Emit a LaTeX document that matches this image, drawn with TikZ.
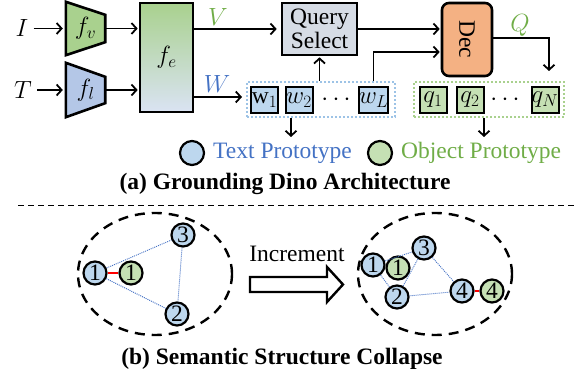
\documentclass[tikz,border=0pt]{standalone}
\usepackage{fontspec}
\setmainfont{Liberation Serif}
\usetikzlibrary{arrows.meta,shapes.geometric,backgrounds}

\definecolor{encgreen}{HTML}{A9D18E}
\definecolor{encblue}{HTML}{B4C7E7}
\definecolor{fusebot}{HTML}{DAE3F3}
\definecolor{qsgray}{HTML}{D6DCE5}
\definecolor{decorange}{HTML}{F4B183}
\definecolor{tokblue}{HTML}{BDD7EE}
\definecolor{tokgreen}{HTML}{C5E0B4}
\definecolor{txtblue}{HTML}{4472C4}
\definecolor{txtgreen}{HTML}{70AD47}
\definecolor{dotblue}{HTML}{9DC3E6}

\begin{document}
\begin{tikzpicture}[x=1pt,y=-1pt,
  every node/.style={font=\fontsize{23.5}{25}\selectfont, inner sep=0pt},
  capt/.style={font=\fontsize{23.5}{25}\selectfont\bfseries, anchor=base},
  arr/.style={line width=1.8pt, -{Straight Barb[length=5pt,width=11pt]}},
  thickbox/.style={draw, line width=2.6pt},
  token/.style={draw, line width=2pt, minimum width=27pt, minimum height=26pt},
  group/.style={draw, line width=2pt, dash pattern=on 2pt off 2pt, minimum height=35pt},
  proto/.style={circle, draw, line width=2.2pt, minimum size=23pt},
  sim/.style={txtblue, line width=0.9pt, dash pattern=on 1pt off 1pt},
  pair/.style={red, line width=1.3pt},
  clusterset/.style={ellipse, draw, line width=2.4pt, dash pattern=on 10pt off 7pt,
    minimum width=154pt, minimum height=122pt}]

\useasboundingbox (0,0) rectangle (574,379);

% encoders
\node (I) at (22,28.5) {$I$};
\node (T) at (23,90) {$T$};
\node (fv) [minimum width=39pt, minimum height=53pt] at (85.5,28.5) {$f_v$};
\node (fl) [minimum width=39pt, minimum height=54pt] at (85.5,90) {$f_l$};
\begin{scope}[on background layer]
\draw[line width=2.6pt, line join=miter, fill=encgreen]
(fv.north west) -- ([yshift=-13pt]fv.north east) -- ([yshift=13pt]fv.south east) -- (fv.south west) -- cycle;
\draw[line width=2.6pt, line join=miter, fill=encblue]
(fl.north west) -- ([yshift=-14pt]fl.north east) -- ([yshift=14pt]fl.south east) -- (fl.south west) -- cycle;
\end{scope}
\node (fe) [thickbox, top color=encgreen, bottom color=fusebot, minimum width=53pt, minimum height=109pt] at (166.5,57.5) {$f_e$};

\draw[arr, shorten <=5pt, shorten >=3pt] (I) -- (fv);
\draw[arr, shorten <=5pt, shorten >=3pt] (T) -- (fl);
\draw[arr, shorten >=1pt] (fv.east) -- (fv.east -| fe.west);
\draw[arr, shorten >=1pt] (fl.east) -- (fl.east -| fe.west);

% query selection and decoder
\node (qs) [thickbox, fill=qsgray, minimum width=75pt, minimum height=52pt, align=center,
  font=\fontsize{23.5}{24}\selectfont] at (319.5,29) {Query\\Select};
\node (dec) [thickbox, fill=decorange, rounded corners=7pt, minimum width=50pt, minimum height=73pt] at (467,39.5) {};
\node (dectext) at (dec) {\rotatebox{-90}{Dec}};

\node (Vlab) [txtgreen] at (218,17) {$V$};
\node (Wlab) [txtblue] at (217,84) {$W$};
\node (Qlab) [txtgreen] at (520,25) {$Q$};

% token rows
\node (wbox) [group, dotblue, minimum width=148pt] at (321,99.5) {};
\node (qbox) [group, encgreen, minimum width=150pt] at (489,99.5) {};
\node (w1) [token, fill=tokblue] at (264.5,100) {$\mathrm{w}_1$};
\node (w2) [token, fill=tokblue] at (299,100) {$w_2$};
\node (wdots) at (336,100) {$\cdots$};
\node (wL) [token, fill=tokblue] at (373.5,100) {$w_L$};
\node (q1) [token, fill=tokgreen] at (433,100) {$q_1$};
\node (q2) [token, fill=tokgreen] at (470,100) {$q_2$};
\node (qdots) at (505,100) {$\cdots$};
\node (qN) [token, fill=tokgreen] at (545,100) {$q_N$};

\draw[arr, shorten >=4pt] (fe.east |- qs.west) -- (qs.west);
\draw[arr, shorten >=4pt] (fe.east |- 0,97) -- (wbox.west |- 0,97);
\draw[arr, shorten >=1pt] (wbox.north -| qs.south) -- (qs.south);
\draw[arr, shorten >=1pt] (qs.east) -- (qs.east -| dec.west);
\draw[arr, shorten >=1pt] (wL.north |- wbox.north) |- (dec.west |- 0,52);

\coordinate (qin) at (549,71);
\draw[arr] (dec.east |- 0,38) -| (qin);
\coordinate (wout) at (291,137);
\coordinate (qout) at (484,137);
\draw[arr] (wout |- wbox.south) -- (wout);
\draw[arr] (qout |- qbox.south) -- (qout);

% legend
\node (legtext) [proto, fill=tokblue, minimum size=24pt] at (192,153) {};
\node (legtextlab) [txtblue, anchor=base west] at (213,159) {Text Prototype};
\node (legobj) [proto, fill=tokgreen, minimum size=24pt] at (380,153) {};
\node (legobjlab) [txtgreen, anchor=base west] at (401,159) {Object Prototype};

\node (capa) [capt] at (285,190) {(a) Grounding Dino Architecture};

\draw[line width=1pt, dash pattern=on 6pt off 4pt] (18,206) -- (574,206);

% before increment
\node (before) [clusterset] at (155,274) {};
\node (b1) [proto, fill=tokblue] at (95,273) {1};
\node (bo1) [proto, fill=tokgreen] at (131,273) {1};
\node (b3) [proto, fill=tokblue] at (183,235) {3};
\node (b2) [proto, fill=tokblue] at (177,314) {2};
\draw[sim] (b1) -- (b3);
\draw[sim] (b1) -- (b2);
\draw[sim] (b3) -- (b2);
\draw[pair] (b1) -- (bo1);

% increment arrow
\node (incr) [anchor=base] at (297,262) {Increment};
\draw[line width=2.4pt, line join=miter, fill=white]
(250,277) -- (327,277) -- (327,267) -- (343,284.5) -- (327,302) -- (327,292) -- (250,292) -- cycle;

% after increment
\node (after) [clusterset] at (435,274) {};
\node (a1) [proto, fill=tokblue] at (373,265) {1};
\node (ao1) [proto, fill=tokgreen] at (398,268) {1};
\node (a3) [proto, fill=tokblue] at (424,248) {3};
\node (a2) [proto, fill=tokblue] at (397,297) {2};
\node (a4) [proto, fill=tokblue] at (462,291) {4};
\node (ao4) [proto, fill=tokgreen] at (492,291) {4};
\draw[sim] (a1) -- (a3);
\draw[sim] (a1) -- (a2);
\draw[sim] (a2) -- (a3);
\draw[sim] (a3) -- (a4);
\draw[sim] (a2) -- (a4);
\draw[pair] (a4) -- (ao4);

\node (capb) [capt] at (282,365) {(b) Semantic Structure Collapse};

\end{tikzpicture}
\end{document}
